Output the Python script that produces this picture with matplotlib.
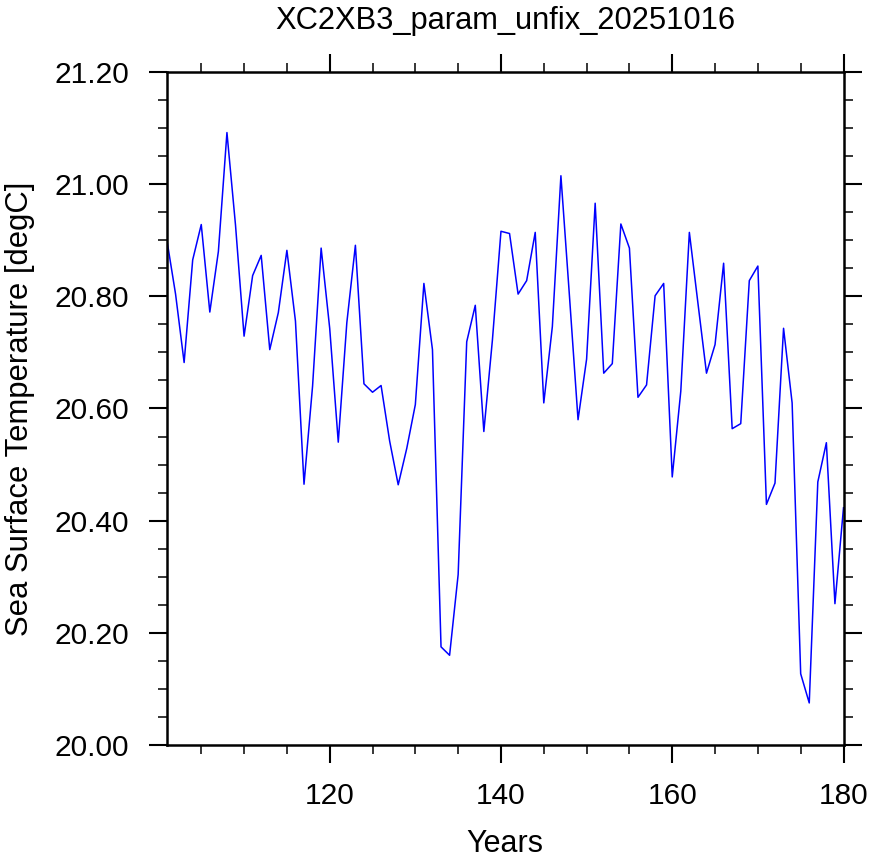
import matplotlib
matplotlib.use("Agg")
import matplotlib.pyplot as plt
from matplotlib.ticker import MultipleLocator, FormatStrFormatter

years = list(range(101, 181))
sst = [
    20.899, 20.804, 20.682, 20.865, 20.928, 20.772, 20.880, 21.092, 20.927, 20.729,
    20.837, 20.873, 20.705, 20.771, 20.882, 20.756, 20.465, 20.640, 20.886, 20.743,
    20.540, 20.753, 20.891, 20.644, 20.629, 20.641, 20.542, 20.464, 20.529, 20.607,
    20.823, 20.705, 20.175, 20.160, 20.304, 20.719, 20.784, 20.559, 20.722, 20.916,
    20.912, 20.804, 20.828, 20.914, 20.610, 20.746, 21.015, 20.800, 20.580, 20.688,
    20.966, 20.663, 20.680, 20.929, 20.886, 20.620, 20.642, 20.801, 20.823, 20.478,
    20.631, 20.914, 20.788, 20.663, 20.714, 20.859, 20.564, 20.573, 20.828, 20.854,
    20.429, 20.467, 20.743, 20.610, 20.127, 20.075, 20.469, 20.539, 20.252, 20.423,
]
title = "XC2XB3_param_unfix_20251016"
xlabel = "Years"
ylabel = "Sea Surface Temperature [degC]"

plt.rcParams['font.family'] = ['Liberation Sans', 'DejaVu Sans']

W, H = 872, 859
fig = plt.figure(figsize=(W / 100, H / 100), dpi=100)
L, R, T, B = 167.0, 843.5, 72.0, 745.0
ax = fig.add_axes([L / W, 1 - B / H, (R - L) / W, (B - T) / H])

ax.plot(years, sst, color=(0, 0, 1), lw=1.1)
ax.set_xlim(101, 180)
ax.set_ylim(20.0, 21.2)

ax.xaxis.set_major_locator(MultipleLocator(20))
ax.xaxis.set_minor_locator(MultipleLocator(5))
ax.yaxis.set_major_locator(MultipleLocator(0.2))
ax.yaxis.set_minor_locator(MultipleLocator(0.05))
ax.yaxis.set_major_formatter(FormatStrFormatter('%.2f'))

for s in ax.spines.values():
    s.set_linewidth(1.8)

ax.tick_params(which='both', direction='out', top=True, right=True,
               labeltop=False, labelright=False)
ax.tick_params(which='major', length=13, width=1.5, labelsize=21.5)
ax.tick_params(which='minor', length=6.5, width=1.1)
ax.tick_params(axis='y', which='major', pad=14.5)
ax.tick_params(axis='x', which='major', pad=14)

def px2ax_x(px):
    return (px - L) / (R - L)

def px2ax_y(py):
    return (B - py) / (B - T)

ax.text(0.5, px2ax_y(29), title, transform=ax.transAxes, ha='center',
        va='baseline', fontsize=22.2)
ax.text(0.5, px2ax_y(852), xlabel, transform=ax.transAxes, ha='center',
        va='baseline', fontsize=22)
ax.text(px2ax_x(20), 0.5, ylabel, transform=ax.transAxes, ha='center',
        va='center', rotation=90, fontsize=22.3)

fig.savefig("out.png", dpi=100)
